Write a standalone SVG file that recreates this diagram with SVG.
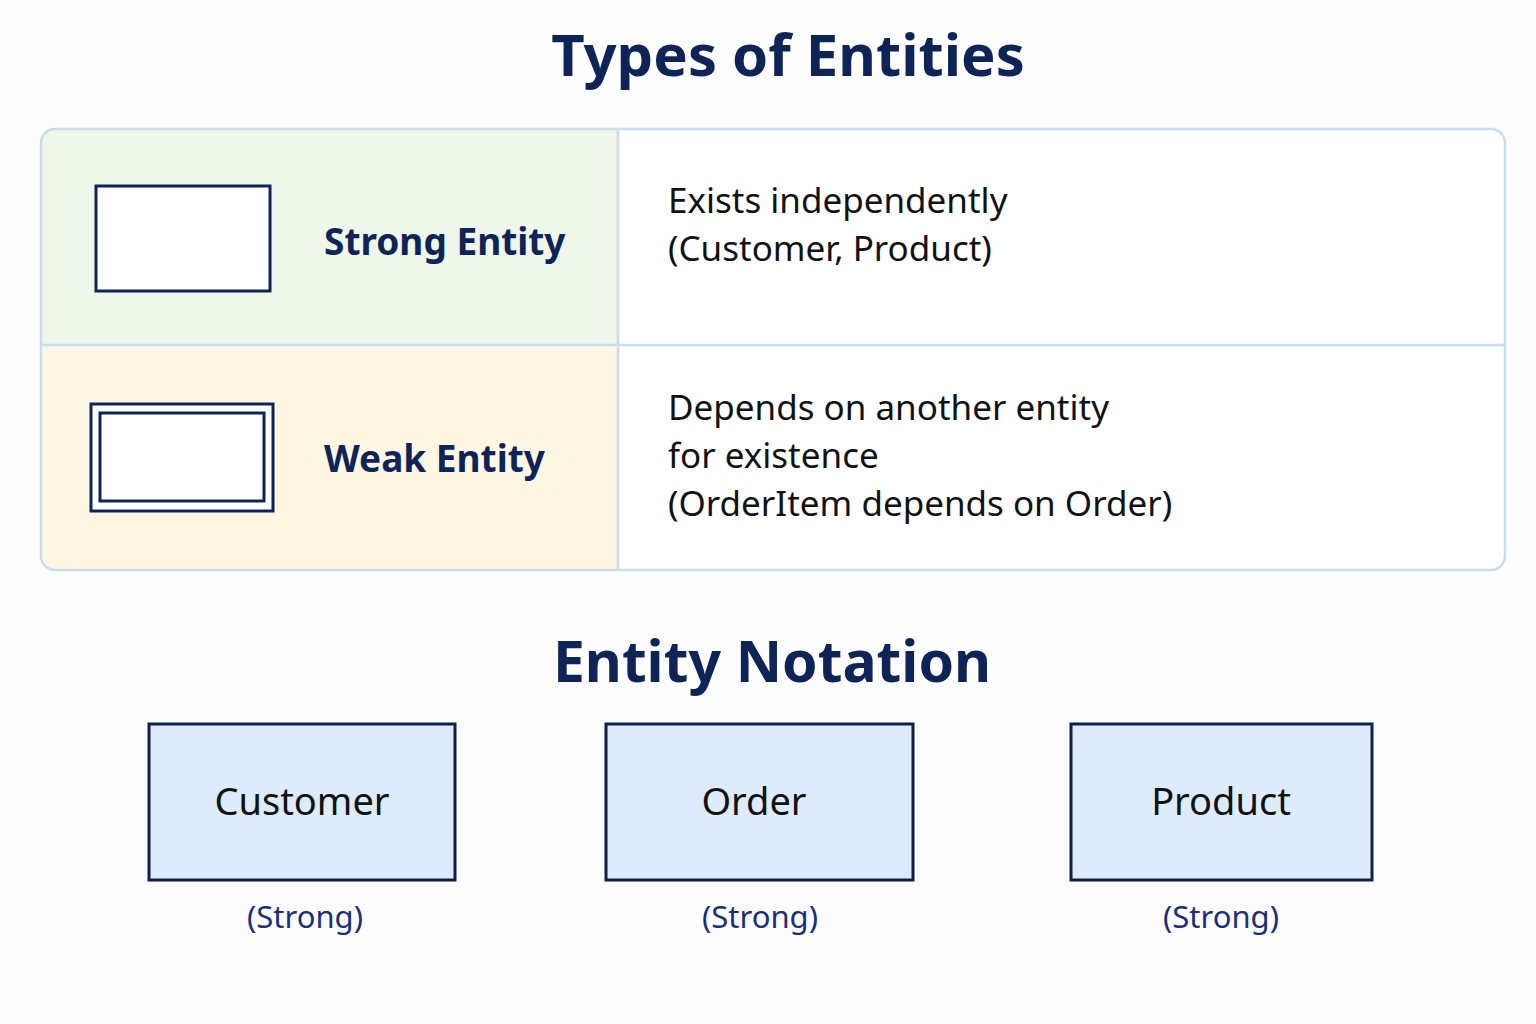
<svg xmlns="http://www.w3.org/2000/svg" width="1536" height="1024" viewBox="0 0 1536 1024">
<style>
.t{font-family:"Noto Sans","Open Sans",sans-serif;fill:#0f2456;font-weight:700}
.d{font-family:"Noto Sans","Open Sans",sans-serif;fill:#111;font-size:35px}
.n{font-family:"Noto Sans","Open Sans",sans-serif;fill:#111;font-size:38px;text-anchor:middle}
.s{font-family:"Noto Sans","Open Sans",sans-serif;fill:#1b2f78;font-size:31px;text-anchor:middle}
.ent{fill:#ddebfc;stroke:#0f1e4a;stroke-width:3}
.sym{fill:#fff;stroke:#0f2456;stroke-width:3}
</style>
<rect width="1536" height="1024" fill="#fdfdfd"/>
<text class="t" x="788" y="76" font-size="58" text-anchor="middle">Types of Entities</text>
<g id="table">
<clipPath id="c"><rect x="41" y="129" width="1464" height="441" rx="14"/></clipPath>
<g clip-path="url(#c)">
<rect x="41" y="129" width="577" height="216" fill="#eff6ea"/>
<rect x="41" y="345" width="577" height="225" fill="#fdf7e4"/>
<rect x="618" y="129" width="887" height="441" fill="#fff"/>
</g>
<rect x="41" y="129" width="1464" height="441" rx="14" fill="none" stroke="#c9dcf0" stroke-width="2.5"/>
<line x1="618" y1="129" x2="618" y2="570" stroke="#c9dcf0" stroke-width="2.5"/>
<line x1="41" y1="345" x2="1505" y2="345" stroke="#c9dcf0" stroke-width="2.5"/>
</g>
<g id="strong-row">
<rect class="sym" x="96" y="186" width="174" height="105"/>
<text class="t" x="324" y="255" font-size="37">Strong Entity</text>
<text class="d" x="668" y="213">Exists independently</text>
<text class="d" x="668" y="261">(Customer, Product)</text>
</g>
<g id="weak-row">
<rect class="sym" x="91" y="404" width="182" height="107"/>
<rect class="sym" x="100" y="413" width="164" height="88"/>
<text class="t" x="324" y="472" font-size="37">Weak Entity</text>
<text class="d" x="668" y="420">Depends on another entity</text>
<text class="d" x="668" y="468">for existence</text>
<text class="d" x="668" y="516">(OrderItem depends on Order)</text>
</g>
<text class="t" x="772" y="682" font-size="57" text-anchor="middle">Entity Notation</text>
<g id="customer">
<rect class="ent" x="149" y="724" width="306" height="156"/>
<text class="n" x="302" y="815">Customer</text>
<text class="s" x="305" y="928">(Strong)</text>
</g>
<g id="order">
<rect class="ent" x="606" y="724" width="307" height="156"/>
<text class="n" x="754" y="815">Order</text>
<text class="s" x="760" y="928">(Strong)</text>
</g>
<g id="product">
<rect class="ent" x="1071" y="724" width="301" height="156"/>
<text class="n" x="1221" y="815">Product</text>
<text class="s" x="1221" y="928">(Strong)</text>
</g>
<g id="connectors"/>
</svg>
